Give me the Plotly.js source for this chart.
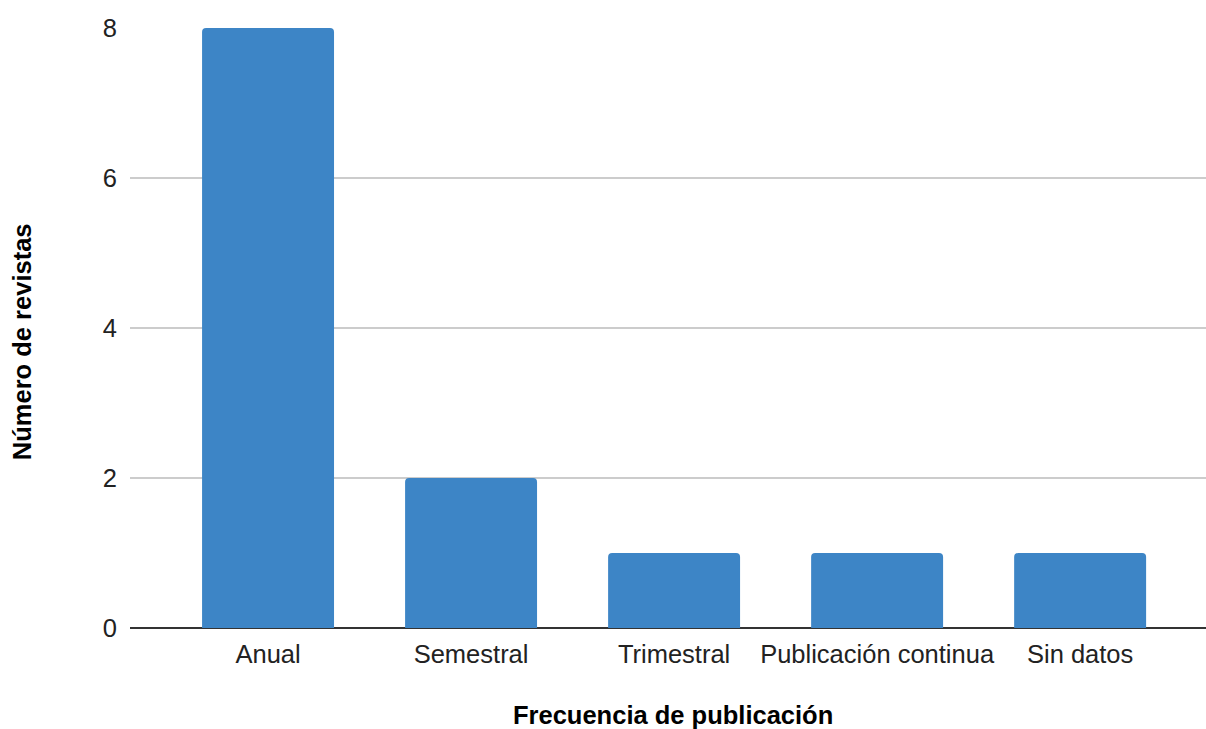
<!DOCTYPE html>
<html>
<head>
<meta charset="utf-8">
<script src="https://cdn.plot.ly/plotly-3.0.1.min.js"></script>
<style>html,body{margin:0;padding:0;background:#fff;}#chart{width:1206px;height:729px;}</style>
</head>
<body>
<div id="chart"></div>
<script>
const categories = ["Anual", "Semestral", "Trimestral", "Publicación continua", "Sin datos"];
const values = [8, 2, 1, 1, 1];
const yTicks = [0, 2, 4, 6, 8];
const xTitle = "Frecuencia de publicación";
const yTitle = "Número de revistas";

const trace = {
  type: "bar",
  x: categories,
  y: values,
  marker: { color: "#3d85c6", cornerradius: 4 },
  hoverinfo: "x+y"
};

const layout = {
  width: 1206,
  height: 729,
  margin: { l: 130, r: 0, t: 28, b: 101 },
  paper_bgcolor: "#ffffff",
  plot_bgcolor: "#ffffff",
  bargap: 0.35,
  font: { family: "Liberation Sans, Arial, sans-serif", color: "#222222", size: 25.5 },
  xaxis: {
    type: "category",
    range: [-0.68, 4.62],
    showgrid: false,
    showline: false,
    zeroline: false,
    ticks: "",
    ticklabelstandoff: 8,
    tickfont: { size: 25.5, color: "#222222" },
    automargin: false
  },
  yaxis: {
    range: [0, 8],
    tickvals: yTicks,
    ticktext: yTicks.map(String),
    showgrid: true,
    gridcolor: "#cccccc",
    gridwidth: 1.5,
    zeroline: true,
    zerolinecolor: "#333333",
    zerolinewidth: 2,
    showline: false,
    ticks: "",
    ticklabelstandoff: 12,
    tickfont: { size: 25.5, color: "#222222" },
    automargin: false
  },
  annotations: [
    {
      text: "<b>" + xTitle + "</b>",
      xref: "paper", yref: "paper",
      x: 0.5046, y: -0.145,
      xanchor: "center", yanchor: "middle",
      showarrow: false,
      font: { size: 25.5, color: "#000000" }
    },
    {
      text: "<b>" + yTitle + "</b>",
      xref: "paper", yref: "paper",
      x: -0.1004, y: 0.478,
      xanchor: "center", yanchor: "middle",
      textangle: -90,
      showarrow: false,
      font: { size: 25.5, color: "#000000" }
    }
  ],
  showlegend: false
};

Plotly.newPlot("chart", [trace], layout, { displayModeBar: false, staticPlot: true });
</script>
</body>
</html>
